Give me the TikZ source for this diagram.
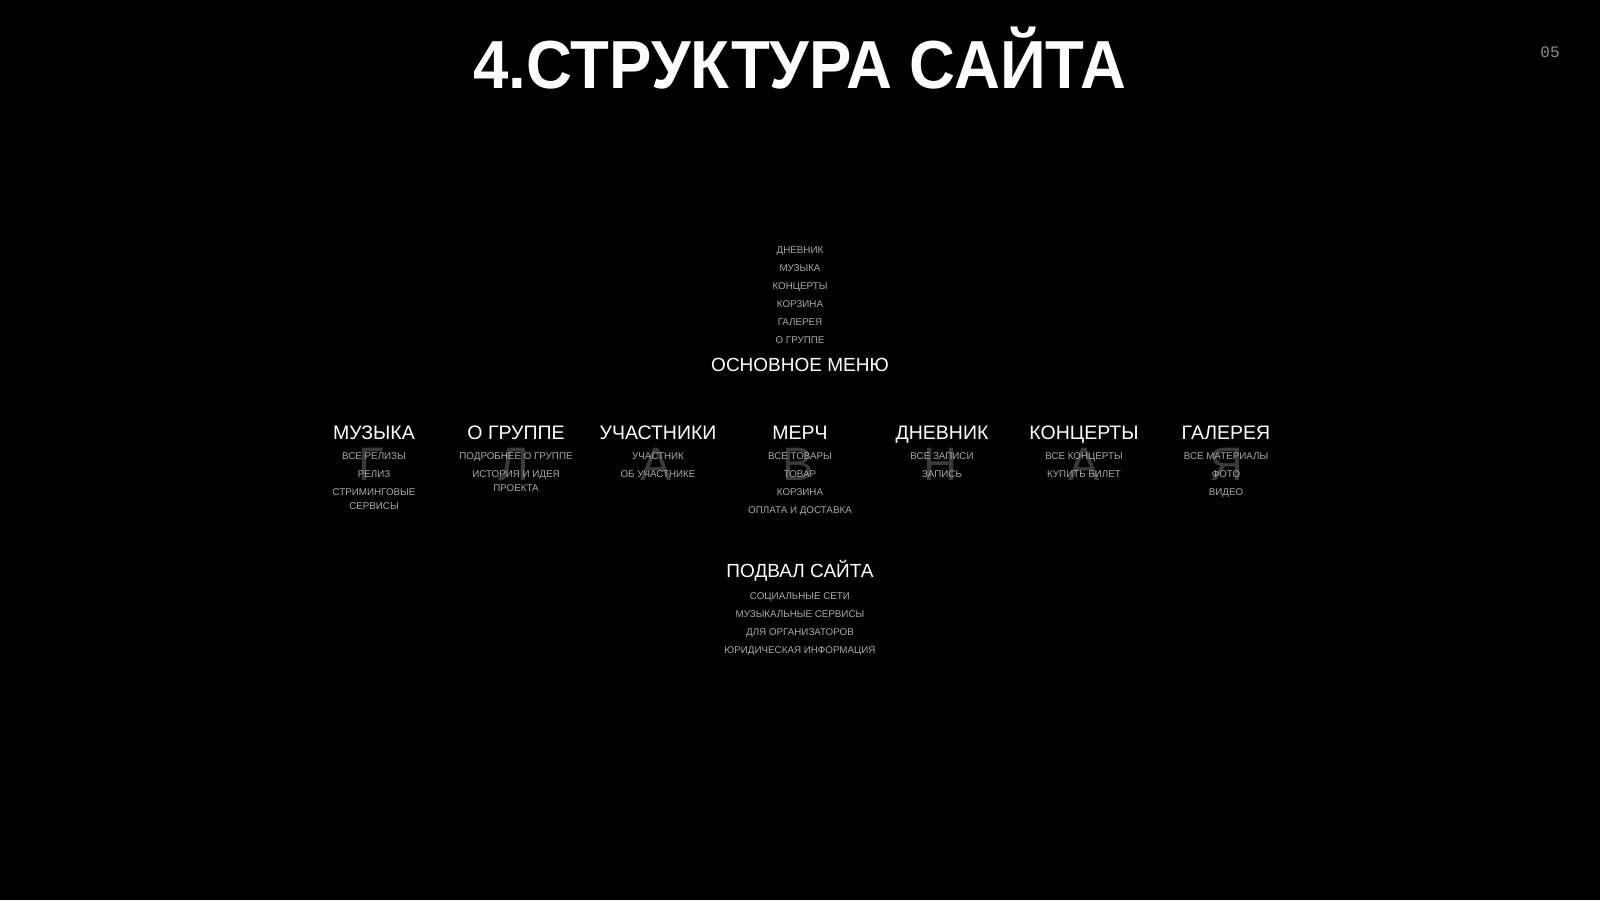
\documentclass[tikz,border=0pt]{standalone}
\usepackage{fontspec}
\usepackage{graphicx}
\setmainfont{Liberation Sans}
\newfontfamily\pagemono{Liberation Mono}
\definecolor{subgray}{HTML}{A8A8A8}
\definecolor{biggray}{HTML}{3A3A3A}
\definecolor{numgray}{HTML}{8E8E8E}
\newcommand{\twolines}[2]{\begin{tabular}[t]{@{}c@{}}#1\\#2\end{tabular}}
\begin{document}
\begin{tikzpicture}[x=1pt,y=-1pt,
  titletext/.style={anchor=base, inner sep=0pt, text=white, font=\bfseries\fontsize{75}{75}\selectfont},
  pagenum/.style={anchor=base, inner sep=0pt, text=numgray, font=\pagemono\fontsize{16}{16}\selectfont},
  sectionhead/.style={anchor=base, inner sep=0pt, text=white, font=\fontsize{19}{19}\selectfont},
  colhead/.style={anchor=base, inner sep=0pt, text=white, font=\fontsize{19.5}{19.5}\selectfont},
  subitem/.style={anchor=base, inner sep=0pt, text=subgray, font=\fontsize{9.8}{14}\selectfont},
  bigletter/.style={anchor=base, inner sep=0pt, text=biggray, font=\fontsize{47}{47}\selectfont}
]
\fill[black] (0,0) rectangle (1600,900);
\useasboundingbox (0,0) rectangle (1600,900);

% title and page number
\node[titletext] (title) at (800,88) {\scalebox{1}[1.07]{\resizebox{653pt}{!}{\fontsize{75}{75}\selectfont 4.СТРУКТУРА САЙТА}}};
\node[pagenum] (pnum) at (1550,57) {05};

% main menu
\node[subitem] (m1) at (800,253.5) {ДНЕВНИК};
\node[subitem] (m2) at (800,271.5) {МУЗЫКА};
\node[subitem] (m3) at (800,289.5) {КОНЦЕРТЫ};
\node[subitem] (m4) at (800,307.5) {КОРЗИНА};
\node[subitem] (m5) at (800,325.5) {ГАЛЕРЕЯ};
\node[subitem] (m6) at (800,343.5) {О ГРУППЕ};
\node[sectionhead] (mainmenu) at (800,371) {ОСНОВНОЕ МЕНЮ};

% big background letters
\node[bigletter] (b1) at (371,480) {Г};
\node[bigletter] (b2) at (514,480) {Л};
\node[bigletter] (b3) at (656,480) {А};
\node[bigletter] (b4) at (798,480) {В};
\node[bigletter] (b5) at (940,480) {Н};
\node[bigletter] (b6) at (1084,480) {А};
\node[bigletter] (b7) at (1226,480) {Я};

% columns
\node[colhead] (h1) at (374,439) {МУЗЫКА};
\node[subitem] (h1a) at (374,459.5) {ВСЕ РЕЛИЗЫ};
\node[subitem] (h1b) at (374,477.5) {РЕЛИЗ};
\node[subitem] (h1c) at (374,495.5) {\twolines{СТРИМИНГОВЫЕ}{СЕРВИСЫ}};

\node[colhead] (h2) at (516,439) {О ГРУППЕ};
\node[subitem] (h2a) at (516,459.5) {ПОДРОБНЕЕ О ГРУППЕ};
\node[subitem] (h2b) at (516,477.5) {\twolines{ИСТОРИЯ И ИДЕЯ}{ПРОЕКТА}};

\node[colhead] (h3) at (658,439) {УЧАСТНИКИ};
\node[subitem] (h3a) at (658,459.5) {УЧАСТНИК};
\node[subitem] (h3b) at (658,477.5) {ОБ УЧАСТНИКЕ};

\node[colhead] (h4) at (800,439) {МЕРЧ};
\node[subitem] (h4a) at (800,459.5) {ВСЕ ТОВАРЫ};
\node[subitem] (h4b) at (800,477.5) {ТОВАР};
\node[subitem] (h4c) at (800,495.5) {КОРЗИНА};
\node[subitem] (h4d) at (800,513.5) {ОПЛАТА И ДОСТАВКА};

\node[colhead] (h5) at (942,439) {ДНЕВНИК};
\node[subitem] (h5a) at (942,459.5) {ВСЕ ЗАПИСИ};
\node[subitem] (h5b) at (942,477.5) {ЗАПИСЬ};

\node[colhead] (h6) at (1084,439) {КОНЦЕРТЫ};
\node[subitem] (h6a) at (1084,459.5) {ВСЕ КОНЦЕРТЫ};
\node[subitem] (h6b) at (1084,477.5) {КУПИТЬ БИЛЕТ};

\node[colhead] (h7) at (1226,439) {ГАЛЕРЕЯ};
\node[subitem] (h7a) at (1226,459.5) {ВСЕ МАТЕРИАЛЫ};
\node[subitem] (h7b) at (1226,477.5) {ФОТО};
\node[subitem] (h7c) at (1226,495.5) {ВИДЕО};

% footer
\node[sectionhead] (footer) at (800,577) {ПОДВАЛ САЙТА};
\node[subitem] (f1) at (800,599.5) {СОЦИАЛЬНЫЕ СЕТИ};
\node[subitem] (f2) at (800,617.5) {МУЗЫКАЛЬНЫЕ СЕРВИСЫ};
\node[subitem] (f3) at (800,635.5) {ДЛЯ ОРГАНИЗАТОРОВ};
\node[subitem] (f4) at (800,653.5) {ЮРИДИЧЕСКАЯ ИНФОРМАЦИЯ};
\end{tikzpicture}
\end{document}
